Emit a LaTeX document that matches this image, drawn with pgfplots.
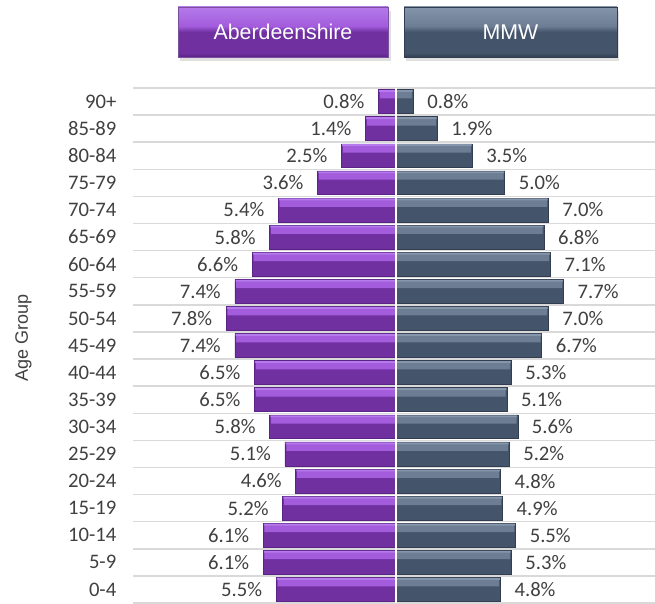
\documentclass[border=0pt]{standalone}
\usepackage{pgfplots}
\usepackage{pgfplotstable}
\pgfplotsset{compat=1.18}
\usepackage{fontspec}
\setmainfont{Carlito}
\newfontfamily\legendfont{Liberation Sans}
\definecolor{pTop}{HTML}{B57AEB}
\definecolor{pLight}{HTML}{A35CDC}
\definecolor{pMain}{HTML}{7030A0}
\definecolor{pDark}{HTML}{5A2385}
\definecolor{sTop}{HTML}{8596AB}
\definecolor{sLight}{HTML}{6C7D94}
\definecolor{sMain}{HTML}{44546A}
\definecolor{sDark}{HTML}{323E4F}
\definecolor{txt}{HTML}{404040}
\definecolor{gridc}{HTML}{D9D9D9}
\pgfdeclareverticalshading{pbevel}{100bp}{color(0bp)=(pDark); color(25bp)=(pDark); color(29bp)=(pMain); color(50bp)=(pMain); color(56bp)=(pLight); color(75bp)=(pTop); color(100bp)=(pTop)}
\pgfdeclareverticalshading{sbevel}{100bp}{color(0bp)=(sDark); color(25bp)=(sDark); color(29bp)=(sMain); color(50bp)=(sMain); color(56bp)=(sLight); color(75bp)=(sTop); color(100bp)=(sTop)}

\pgfplotstableread{
y a m
0 5.5 4.8
1 6.1 5.3
2 6.1 5.5
3 5.2 4.9
4 4.6 4.8
5 5.1 5.2
6 5.8 5.6
7 6.5 5.1
8 6.5 5.3
9 7.4 6.7
10 7.8 7.0
11 7.4 7.7
12 6.6 7.1
13 5.8 6.8
14 5.4 7.0
15 3.6 5.0
16 2.5 3.5
17 1.4 1.9
18 0.8 0.8
}\data

\begin{document}
\begin{tikzpicture}
\useasboundingbox (0,0) rectangle (491.25pt,452.25pt);
% legend boxes
\fill[black,opacity=0.12] (135pt,406.5pt) rectangle (293pt,444pt);
\fill[black,opacity=0.12] (304.5pt,406.5pt) rectangle (464.5pt,444pt);
\node[shading=pbevel, draw=pDark!80, line width=0.4pt, minimum width=157.5pt, minimum height=37.5pt, inner sep=0pt, text=white, font=\legendfont\fontsize{16}{19}\selectfont] at (212.25pt,428.25pt) {Aberdeenshire};
\node[shading=sbevel, draw=sDark, line width=0.4pt, minimum width=159.75pt, minimum height=37.5pt, inner sep=0pt, text=white, font=\legendfont\fontsize{16}{19}\selectfont] at (382.9pt,428.25pt) {MMW};
\begin{axis}[
  at={(99.75pt,0pt)}, anchor=south west,
  scale only axis, width=391.5pt, height=386.25pt,
  xmin=-12.08, xmax=11.9, ymin=-0.5, ymax=18.5,
  xtick=\empty,
  ytick={0,...,18},
  yticklabels={0-4,5-9,10-14,15-19,20-24,25-29,30-34,35-39,40-44,45-49,50-54,55-59,60-64,65-69,70-74,75-79,80-84,85-89,90+},
  minor ytick={-0.5,0.5,...,18.5},
  yminorgrids=true, ymajorgrids=false,
  minor grid style={draw=gridc, line width=1.1pt},
  axis line style={draw=none},
  major tick length=0pt, minor tick length=0pt,
  tick style={draw=none},
  yticklabel style={font=\fontsize{15.5}{18}\selectfont, text=txt, anchor=east, xshift=-9pt},
  ylabel={Age Group},
  every axis y label/.style={at={(axis description cs:-0.21,0.515)}, rotate=90, anchor=center, font=\legendfont\fontsize{13.5}{16}\selectfont, text=txt},
  clip=false,
]
% Aberdeenshire
\addplot[xbar, bar width=0.88, fill=pMain, draw=pDark, line width=0.5pt,
  point meta=explicit,
  nodes near coords={\pgfmathprintnumber[assume math mode=true,fixed,fixed zerofill,precision=1]{\pgfplotspointmeta}\%},
  every node near coord/.append style={anchor=east, xshift=-7pt, text=txt, font=\fontsize{15.5}{18}\selectfont}]
  table[x expr=-\thisrow{a}, y=y, meta=a] {\data};
\addplot[xbar, bar width=0.27, bar shift=0.25, fill=pLight, draw=none]
  table[x expr=-\thisrow{a}+0.06, y=y] {\data};
\addplot[xbar, bar width=0.07, bar shift=0.39, fill=pTop, draw=none]
  table[x expr=-\thisrow{a}+0.03, y=y] {\data};
% MMW
\addplot[xbar, bar width=0.88, fill=sMain, draw=sDark, line width=0.5pt,
  point meta=explicit,
  nodes near coords={\pgfmathprintnumber[assume math mode=true,fixed,fixed zerofill,precision=1]{\pgfplotspointmeta}\%},
  every node near coord/.append style={anchor=west, xshift=7pt, text=txt, font=\fontsize{15.5}{18}\selectfont}]
  table[x=m, y=y, meta=m] {\data};
\addplot[xbar, bar width=0.27, bar shift=0.25, fill=sLight, draw=none]
  table[x expr=\thisrow{m}-0.06, y=y] {\data};
\addplot[xbar, bar width=0.07, bar shift=0.39, fill=sTop, draw=none]
  table[x expr=\thisrow{m}-0.03, y=y] {\data};
\draw[white, line width=1.4pt] (axis cs:0,-0.5) -- (axis cs:0,18.5);
\end{axis}
\end{tikzpicture}
\end{document}
